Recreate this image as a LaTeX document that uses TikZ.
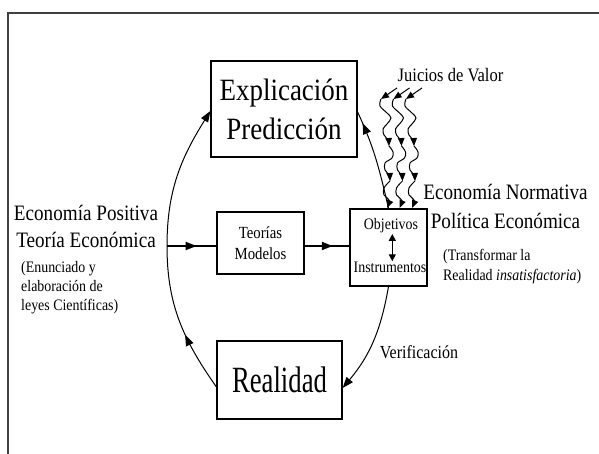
\documentclass[tikz,border=0pt]{standalone}
\usepackage{graphicx}
\usepackage{fontspec}
\setmainfont{Liberation Serif}[FakeStretch=0.87]
\usetikzlibrary{arrows.meta,decorations.markings}

\begin{document}
\begin{tikzpicture}[x=1pt, y=1pt,
  caja/.style={draw=black, line width=1.2pt, inner sep=0pt},
  texto/.style={inner sep=0pt},
  arco/.style={draw=black, line width=1pt},
  punta/.style={-{Triangle[length=11pt,width=8pt]}},
  medio/.style={postaction={decorate}, decoration={markings, mark=at position #1 with {\arrow{Triangle[length=11pt,width=8pt]}}}},
  onda/.style={line width=1pt, smooth, tension=0.6, -{Triangle[length=8pt,width=6.5pt]}},
  corta/.style={line width=1pt, -{Triangle[length=8pt,width=6.5pt]}}]
			\useasboundingbox (0,0) rectangle (599,-454);
			\draw[black!75, line width=1.3pt] (599,-13) -- (8,-13) -- (8,-454);

			\node[caja, minimum width=146pt, minimum height=96pt, align=center, font=\fontsize{31}{39}\selectfont] (expl) at (284,-109) {Explicación\\Predicción};
			\node[caja, minimum width=87pt, minimum height=62pt, align=center, font=\fontsize{17}{20.7}\selectfont] (teor) at (260.5,-243) {Teorías\\Modelos};
			\node[caja, minimum width=77pt, minimum height=77pt] (obj) at (388.5,-247.5) {};
			\node[caja, minimum width=125pt, minimum height=78pt, font=\fontsize{37}{40}\selectfont] (real) at (279.5,-380) {\scalebox{0.83}[1]{Realidad}};

			\node[texto, font=\fontsize{16}{19}\selectfont] (objt) at (391,-225.5) {Objetivos};
			\node[texto, font=\fontsize{16}{19}\selectfont] (instr) at (390,-267.8) {Instrumentos};

			\node[texto, align=center, font=\fontsize{22}{26.3}\selectfont] (posit) at (86,-226.6) {Economía Positiva\\Teoría Económica};
			\node[texto, align=left, anchor=west, font=\fontsize{16}{19}\selectfont] (enun) at (21,-287.4) {(Enunciado y\\elaboración de\\leyes Científicas)};
			\node[texto, align=center, font=\fontsize{22}{28.3}\selectfont] (norm) at (505.5,-206.6) {Economía Normativa\\Política Económica};
			\node[texto, align=left, anchor=west, font=\fontsize{16}{20.7}\selectfont] (transf) at (443,-266.5) {(Transformar la\\Realidad \textit{insatisfactoria})};
			\node[texto, font=\fontsize{19}{22}\selectfont] (juicios) at (450.5,-74.6) {Juicios de Valor};
			\node[texto, font=\fontsize{18.4}{22}\selectfont] (verif) at (419,-352) {Verificación};

			\coordinate (lft) at (167,-246);

			\path ([yshift=-7pt]real.west) edge[arco, medio=0.4, out=125, in=-90] (lft);
			\path (lft) edge[arco, punta, out=90, in=238] ([yshift=-2pt]expl.west);
			\path (lft) edge[arco, line width=1.8pt, medio=0.6] (lft -| teor.west);
			\path (lft -| teor.east) edge[arco, line width=1.8pt, medio=0.63] (lft -| obj.west);
			\path (obj.north) edge[arco, medio=0.88, out=103, in=-65] ([yshift=-3pt]expl.east);
			\path (obj.south) edge[arco, punta, out=-100, in=50] ([yshift=-8pt]real.east);
			\path ([xshift=1.3pt, yshift=-1pt]objt.south) edge[arco, line width=1.2pt, {Triangle[length=7pt,width=7pt]}-{Triangle[length=7pt,width=7pt]}] ([xshift=2.3pt, yshift=1pt]instr.north);

			% juicios de valor
			\foreach \i [evaluate=\i as \x using 381+12.5*\i] in {0,1,2} {
				\coordinate (jv\i) at (\x+16,-88);
				\coordinate (ja\i) at (\x,-99);
				\coordinate (jb\i) at (\x+8,-146);
				\coordinate (jc\i) at (\x+9,-181);
				\coordinate (jd\i) at (\x+6,-208);
				\draw[corta] (jv\i) -- (ja\i);
				\draw[onda] plot coordinates {(ja\i) (\x-1,-106) (\x+6,-113) (\x+10,-118) (\x+6,-124) (\x+2,-129) (\x+3,-135) (\x+7,-140) (jb\i)};
				\draw[onda] plot coordinates {(jb\i) (\x+12,-152) (\x+11,-158) (\x+4,-163) (\x+4,-170) (\x+8,-175) (jc\i)};
				\draw[onda] plot coordinates {(jc\i) (\x+3,-188) (\x+3,-195) (\x+8,-200) (jd\i)};
			}
\end{tikzpicture}
\end{document}
